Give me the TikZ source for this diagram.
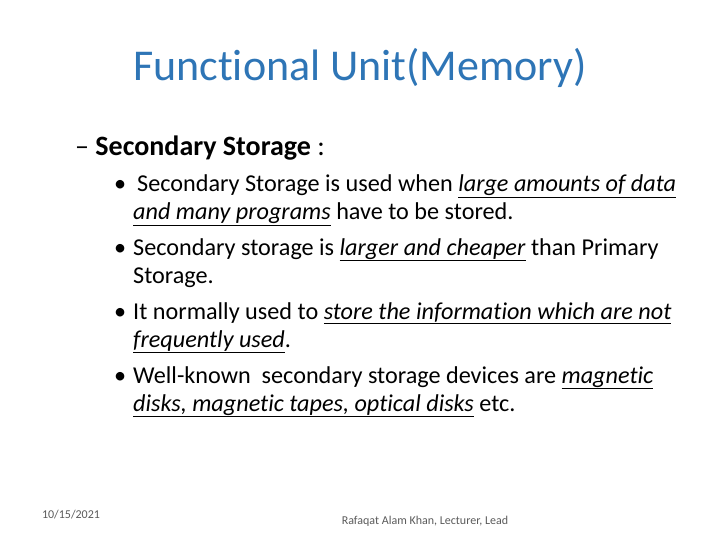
\documentclass[tikz,border=0pt]{standalone}
\usepackage{fontspec}
\setmainfont[RawFeature=-liga]{Carlito}
\definecolor{TitleBlue}{RGB}{46,117,182}
\definecolor{FootGray}{RGB}{90,90,90}
\begin{document}
\begin{tikzpicture}[x=1pt,y=-1pt,
    title/.style={text=TitleBlue,font=\fontsize{44}{48}\selectfont},
    head/.style={anchor=base west,font=\fontsize{28}{32}\selectfont,inner sep=0pt},
    item/.style={anchor=base west,font=\fontsize{24.2}{28}\selectfont,inner sep=0pt},
    foot/.style={text=FootGray,font=\fontsize{12}{14}\selectfont,inner sep=0pt}]
    \useasboundingbox (0,0) rectangle (720,540);
    \node[title] (title) at (360,68) {Functional Unit(Memory)};
    \node[head] (head) at (75,156) {-- \textbf{Secondary Storage} :};
    % bullets
    \foreach \y in {192,255,319,383}
      \node[item] at (114,\y) {\textbullet};
    \node[item] (b1a) at (137,192) {Secondary Storage is used when \underline{\textit{large amounts of data}}};
    \node[item] (b1b) at (133,220) {\underline{\textit{and many programs}} have to be stored.};
    \node[item] (b2a) at (133,255) {Secondary storage is \underline{\textit{larger and cheaper}} than Primary};
    \node[item] (b2b) at (133,283) {Storage.};
    \node[item] (b3a) at (133,319) {It normally used to \underline{\textit{store the information which are not}}};
    \node[item] (b3b) at (133,347) {\underline{\textit{frequently used}}.};
    \node[item] (b4a) at (133,383) {Well-known\ \ secondary storage devices are \underline{\textit{magnetic}}};
    \node[item] (b4b) at (133,411) {\underline{\textit{disks, magnetic tapes, optical disks}} etc.};
    \node[foot] (date) at (71,515) {10/15/2021};
    \node[foot] (author) at (425,521) {Rafaqat Alam Khan, Lecturer, Lead};
\end{tikzpicture}
\end{document}
